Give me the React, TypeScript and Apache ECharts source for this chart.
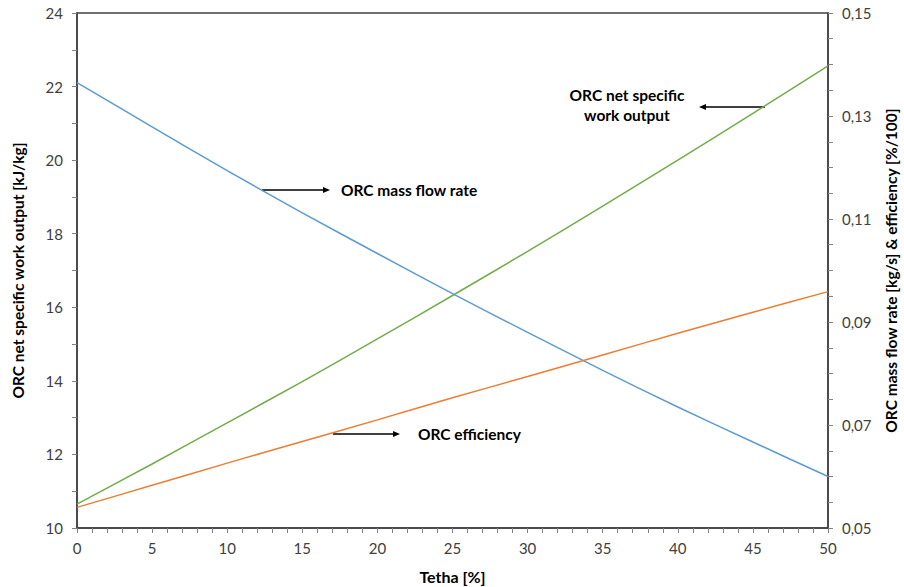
import React, { useEffect, useRef } from "react";
import * as echarts from "echarts";

const tetha = [0, 5, 10, 15, 20, 25, 30, 35, 40, 45, 50];
const specificWork = [10.65, 11.74, 12.86, 13.98, 15.14, 16.32, 17.52, 18.75, 20.0, 21.27, 22.56];
const massFlow = [0.1365, 0.1279, 0.1194, 0.1112, 0.1033, 0.0955, 0.088, 0.0806, 0.0735, 0.0667, 0.06];
const efficiency = [0.054, 0.0583, 0.0626, 0.0668, 0.071, 0.0753, 0.0794, 0.0836, 0.0878, 0.0919, 0.0959];

const FONT = "Lato, 'Open Sans', sans-serif";

function arrow(x1: number, y1: number, x2: number, y2: number) {
  const dir = x2 > x1 ? 1 : -1;
  return [
    { type: "line", shape: { x1, y1, x2: x2 - dir * 5, y2 }, style: { stroke: "#000", lineWidth: 1.3 } },
    {
      type: "polygon",
      shape: { points: [[x2, y2], [x2 - dir * 7, y2 - 3], [x2 - dir * 7, y2 + 3]] },
      style: { fill: "#000" },
    },
  ];
}

export default function App() {
  const ref = useRef<HTMLDivElement>(null);
  useEffect(() => {
    if (!ref.current) return;
    const chart = echarts.init(ref.current, null, { renderer: "svg" });
    const pairs = (ys: number[]) => tetha.map((t, i) => [t, ys[i]]);
    const tickLabel = { color: "#404040", fontSize: 15, fontFamily: FONT };
    const nameStyle = { color: "#000", fontSize: 15.5, fontWeight: "bold", fontFamily: FONT };
    const annText = { fill: "#000", fontSize: 15.5, fontWeight: "bold", fontFamily: FONT };
    chart.setOption({
      animation: false,
      grid: {
        left: 77,
        right: 76,
        top: 13,
        bottom: 59,
        show: true,
        borderColor: "#404040",
        borderWidth: 1.5,
        containLabel: false,
        outerBoundsMode: "none",
      },
      xAxis: {
        type: "value",
        min: 0,
        max: 50,
        interval: 5,
        name: "Tetha [%]",
        nameLocation: "middle",
        nameGap: 40,
        nameTextStyle: { ...nameStyle, fontSize: 16 },
        axisLine: { show: true, lineStyle: { color: "#404040", width: 1.5 } },
        axisTick: { show: true, length: 5, lineStyle: { color: "#808080" } },
        minorTick: { show: true, splitNumber: 5, length: 5, lineStyle: { color: "#808080" } },
        axisLabel: { ...tickLabel, margin: 12 },
        splitLine: { show: false },
      },
      yAxis: [
        {
          type: "value",
          min: 10,
          max: 24,
          interval: 2,
          name: "ORC net specific work output [kJ/kg]",
          nameLocation: "middle",
          nameGap: 51,
          nameTextStyle: nameStyle,
          axisLine: { show: true, lineStyle: { color: "#404040", width: 1.5 } },
          axisTick: { show: true, length: 5, lineStyle: { color: "#808080" } },
          minorTick: { show: true, splitNumber: 2, length: 5, lineStyle: { color: "#808080" } },
          axisLabel: { ...tickLabel, margin: 14 },
          splitLine: { show: false },
        },
        {
          type: "value",
          min: 0.05,
          max: 0.15,
          interval: 0.01,
          position: "right",
          name: "ORC mass flow rate [kg/s] & efficiency [%/100]",
          nameLocation: "middle",
          nameGap: 55,
          nameRotate: 90,
          nameTextStyle: nameStyle,
          axisLine: { show: true, lineStyle: { color: "#404040", width: 1.5 } },
          axisTick: { show: true, length: 5, lineStyle: { color: "#808080" } },
          minorTick: { show: true, splitNumber: 2, length: 5, lineStyle: { color: "#808080" } },
          axisLabel: {
            ...tickLabel,
            margin: 14,
            formatter: (v: number) => {
              const k = Math.round(v * 100);
              return k % 2 === 1 ? (k / 100).toFixed(2).replace(".", ",") : "";
            },
          },
          splitLine: { show: false },
        },
      ],
      series: [
        {
          name: "ORC net specific work output",
          type: "line",
          yAxisIndex: 0,
          data: pairs(specificWork),
          smooth: 0.3,
          showSymbol: false,
          lineStyle: { color: "#70AD47", width: 1.5 },
        },
        {
          name: "ORC mass flow rate",
          type: "line",
          yAxisIndex: 1,
          data: pairs(massFlow),
          smooth: 0.3,
          showSymbol: false,
          lineStyle: { color: "#5B9BD5", width: 1.5 },
        },
        {
          name: "ORC efficiency",
          type: "line",
          yAxisIndex: 1,
          data: pairs(efficiency),
          smooth: 0.3,
          showSymbol: false,
          lineStyle: { color: "#ED7D31", width: 1.5 },
        },
      ],
      graphic: [
        ...arrow(262, 190, 330, 190),
        { type: "text", x: 341, y: 190, style: { ...annText, text: "ORC mass flow rate", verticalAlign: "middle" } },
        ...arrow(333, 434, 400, 434),
        { type: "text", x: 418, y: 434, style: { ...annText, text: "ORC efficiency", verticalAlign: "middle" } },
        ...arrow(765, 107, 699, 107),
        {
          type: "text",
          x: 627,
          y: 105,
          style: { ...annText, text: "ORC net specific\nwork output", align: "center", verticalAlign: "middle", lineHeight: 20 },
        },
      ],
    });
    return () => chart.dispose();
  }, []);
  return <div ref={ref} style={{ position: "fixed", left: 0, top: 0, width: 904, height: 587, background: "#fff" }} />;
}
